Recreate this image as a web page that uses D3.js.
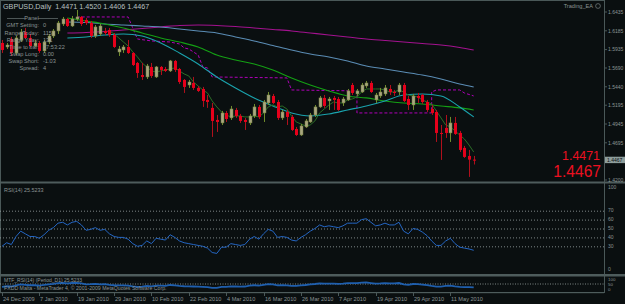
<!DOCTYPE html>
<html>
<head>
<meta charset="utf-8">
<script src="https://cdn.jsdelivr.net/npm/d3@7"></script>
<style>
  body { margin: 0; background: #0a0f10; }
  svg { display: block; font-family: "Liberation Sans", Arial, sans-serif; }
</style>
</head>
<body>
<svg id="chart" width="625" height="304"></svg>
<script>
// 1) Daily GBPUSD bars, 24 Dec 2009 .. 18 May 2010 (read off the picture)
const opens = [
  1.6023,1.5970,1.6076,1.5890,1.6063,1.6169,1.6090,1.5983,1.6023,1.5917,
  1.6036,1.6116,1.6183,1.6276,1.6342,1.6249,1.6342,1.6369,1.6329,1.6289,
  1.6116,1.6143,1.6183,1.6196,1.6129,1.5903,1.5930,1.5970,1.5890,1.5757,
  1.5597,1.5571,1.5704,1.5571,1.5704,1.5677,1.5651,1.5784,1.5677,1.5531,
  1.5464,1.5491,1.5425,1.5411,1.5265,1.5159,1.4999,1.4959,1.5092,1.5026,
  1.5132,1.5052,1.4999,1.4959,1.5052,1.5172,1.5092,1.5225,1.5318,1.5238,
  1.5026,1.5105,1.5039,1.4879,1.4799,1.4906,1.4972,1.5065,1.5172,1.5292,
  1.5252,1.5292,1.5278,1.5225,1.5265,1.5464,1.5345,1.5371,1.5451,1.5491,
  1.5265,1.5318,1.5345,1.5411,1.5371,1.5371,1.5464,1.5278,1.5198,1.5318,
  1.5331,1.5238,1.5145,1.5105,1.4826,1.4893,1.4826,1.4959,1.4826,1.4627,
  1.4520,1.4471
];
const highs = [
  1.6063,1.6023,1.6103,1.6116,1.6209,1.6223,1.6143,1.6063,1.6050,1.6063,
  1.6143,1.6209,1.6316,1.6369,1.6356,1.6382,1.6462,1.6382,1.6356,1.6316,
  1.6262,1.6276,1.6223,1.6223,1.6156,1.5983,1.5996,1.6063,1.5903,1.5770,
  1.5757,1.5744,1.5757,1.5717,1.5717,1.5704,1.5797,1.5797,1.5691,1.5544,
  1.5531,1.5571,1.5451,1.5438,1.5331,1.5225,1.5065,1.5119,1.5119,1.5185,
  1.5159,1.5079,1.5026,1.5079,1.5212,1.5198,1.5265,1.5371,1.5345,1.5265,
  1.5132,1.5132,1.5065,1.4906,1.4946,1.5012,1.5092,1.5198,1.5318,1.5331,
  1.5305,1.5318,1.5305,1.5305,1.5411,1.5491,1.5411,1.5491,1.5518,1.5518,
  1.5358,1.5425,1.5464,1.5464,1.5398,1.5491,1.5491,1.5318,1.5345,1.5358,
  1.5345,1.5265,1.5198,1.5132,1.4932,1.5065,1.5039,1.5039,1.4853,1.4653,
  1.4600,1.4520
];
const lows = [
  1.5890,1.5943,1.5850,1.5863,1.6036,1.6076,1.5957,1.5970,1.5890,1.5890,
  1.6010,1.6090,1.6143,1.6249,1.6236,1.6236,1.6316,1.6249,1.6262,1.6090,
  1.6090,1.6116,1.6129,1.6103,1.5957,1.5850,1.5890,1.5877,1.5717,1.5558,
  1.5531,1.5544,1.5558,1.5558,1.5597,1.5637,1.5637,1.5637,1.5478,1.5358,
  1.5425,1.5398,1.5371,1.5172,1.5159,1.4773,1.4839,1.4932,1.4972,1.4999,
  1.5026,1.4959,1.4866,1.4932,1.5026,1.5012,1.4972,1.5198,1.5212,1.4999,
  1.4999,1.4932,1.4853,1.4786,1.4786,1.4893,1.4959,1.5039,1.5159,1.5159,
  1.5132,1.5132,1.5119,1.5185,1.5252,1.5331,1.5318,1.5358,1.5425,1.5358,
  1.5225,1.5292,1.5318,1.5331,1.5318,1.5331,1.5238,1.5132,1.5132,1.5225,
  1.5212,1.5105,1.5065,1.4706,1.4467,1.4760,1.4706,1.4799,1.4573,1.4494,
  1.4241,1.4406
];
const closes = [
  1.5930,1.5996,1.5890,1.6090,1.6169,1.6090,1.5983,1.6023,1.5917,1.6036,
  1.6116,1.6183,1.6289,1.6342,1.6249,1.6342,1.6369,1.6276,1.6289,1.6116,
  1.6236,1.6249,1.6156,1.6129,1.5970,1.5943,1.5970,1.5890,1.5730,1.5624,
  1.5571,1.5717,1.5584,1.5704,1.5664,1.5651,1.5784,1.5664,1.5504,1.5438,
  1.5504,1.5425,1.5385,1.5252,1.5238,1.4986,1.4972,1.5092,1.5012,1.5145,
  1.5052,1.4986,1.4972,1.5052,1.5172,1.5039,1.5238,1.5331,1.5225,1.5026,
  1.5105,1.5039,1.4866,1.4799,1.4919,1.4986,1.5065,1.5172,1.5292,1.5185,
  1.5278,1.5265,1.5132,1.5278,1.5385,1.5358,1.5385,1.5464,1.5491,1.5371,
  1.5331,1.5371,1.5425,1.5371,1.5358,1.5464,1.5252,1.5198,1.5318,1.5292,
  1.5238,1.5132,1.5092,1.4826,1.4813,1.4826,1.4959,1.4813,1.4600,1.4507,
  1.4471,1.4467
];

// 2) Moving averages, sampled at these bars
const maIdx   = [14,18,22,26,30,34,38,42,46,50,54,58,62,66,70,74,78,82,86,90,94,98,101];
const maSlow  = [1.6156,1.6163,1.6176,1.6196,1.6216,1.6236,1.6256,1.6262,1.6256,1.6242,1.6223,1.6203,1.6183,1.6156,1.6129,1.6103,1.6076,1.6056,1.6036,1.6016,1.5996,1.5963,1.5930]; // magenta
const maLong  = [1.6302,1.6296,1.6276,1.6262,1.6249,1.6236,1.6209,1.6183,1.6156,1.6103,1.6050,1.5990,1.5930,1.5877,1.5837,1.5784,1.5717,1.5677,1.5637,1.5597,1.5544,1.5478,1.5438]; // steel blue
const maMid   = [1.6356,1.6316,1.6276,1.6223,1.6156,1.6090,1.6036,1.5970,1.5863,1.5797,1.5744,1.5664,1.5558,1.5464,1.5385,1.5318,1.5292,1.5252,1.5225,1.5212,1.5185,1.5159,1.5132]; // green
const maShort = [1.6090,1.6103,1.6129,1.6143,1.6116,1.6023,1.5890,1.5744,1.5571,1.5425,1.5292,1.5185,1.5092,1.5052,1.5079,1.5132,1.5185,1.5252,1.5331,1.5345,1.5318,1.5172,1.5039]; // teal

// fast MA, one value per bar from bar 23
const fastStart = 23;
const maFast = [
  1.6183,1.6143,1.6090,1.6036,1.5983,1.5903,1.5837,1.5757,1.5704,1.5651,
  1.5637,1.5651,1.5664,1.5677,1.5691,1.5651,1.5611,1.5584,1.5504,1.5451,
  1.5398,1.5358,1.5252,1.5172,1.5105,1.5065,1.5039,1.5052,1.5052,1.5039,
  1.5039,1.5052,1.5039,1.5092,1.5172,1.5198,1.5172,1.5185,1.5145,1.5052,
  1.4972,1.4946,1.4919,1.4932,1.4986,1.5092,1.5145,1.5198,1.5238,1.5225,
  1.5225,1.5265,1.5278,1.5305,1.5371,1.5411,1.5411,1.5411,1.5411,1.5398,
  1.5371,1.5371,1.5398,1.5371,1.5331,1.5318,1.5305,1.5265,1.5238,1.5212,
  1.5119,1.5026,1.4932,1.4906,1.4853,1.4799,1.4746,1.4666,1.4573
];

// dashed trailing-stop line
const stopIdx  = [16,27,29,32,36,38,39,40,42,43,44,45,61,62,76,76,92,92,93,98,99,101];
const stopVals = [1.6369,1.6369,1.6076,1.6050,1.6036,1.6010,1.5957,1.5943,1.5863,1.5704,1.5691,1.5571,1.5558,1.5398,1.5385,1.5092,1.5092,1.5371,1.5398,1.5398,1.5358,1.5318];

// 3) RSI(14)
const rsi = [
  30,34,32,41,47,44,41,41,39,43,
  48,51,56,57,54,57,58,54,48,49,
  51,48,49,44,41,40,40,38,33,30,
  31,36,33,39,38,37,43,40,36,34,
  33,32,31,30,28,23,22,29,29,33,
  32,31,32,38,41,38,44,49,47,40,
  41,40,37,36,40,43,47,50,54,52,
  53,52,51,53,56,56,56,60,61,57,
  53,54,56,54,54,57,47,44,50,49,
  46,42,36,31,31,36,39,33,29,28,
  27,25.52
];
const rsiLevels = [70, 60, 50, 40, 30];
const rsiTicks  = [100, 70, 60, 50, 40, 30, 0];
const mtfTicks  = [100, 50, 0];

// 4) Axis labels and panel
const priceTicks = [1.6435, 1.6185, 1.5935, 1.5690, 1.5440, 1.5195, 1.4945, 1.4695, 1.4200];
const lastPrice  = 1.4467;
const dateIdx    = [0, 8, 16, 24, 32, 40, 48, 56, 64, 72, 80, 88, 96];
const dateLabels = ["24 Dec 2009","7 Jan 2010","19 Jan 2010","29 Jan 2010","10 Feb 2010","22 Feb 2010",
                    "4 Mar 2010","16 Mar 2010","26 Mar 2010","7 Apr 2010","19 Apr 2010","29 Apr 2010","11 May 2010"];
const panelLabels = ["GMT Setting:", "Range Today:", "Range Yday:", "Time to bar:", "Swap Long:", "Swap Short:", "Spread:"];
const panelValues = ["0", "115", "131", "17:53:22", "0.00", "-1.03", "4"];

const svg = d3.select("#chart");
const W = 625, axisX = 604;
const grey = "#8a9494", frame = "#4a5858";

// window layout
const main = { top: 0, bottom: 181 };
const rsiW = { top: 184, bottom: 273 };
const mtfW = { top: 277, bottom: 291 };

// scales
const x = d3.scaleLinear().domain([0, 101]).range([2, 473.7]);
const y = d3.scaleLinear().domain([1.4200, 1.6435]).range([180, 12]);
const yR = d3.scaleLinear().domain([0, 100]).range([rsiW.bottom, rsiW.top]);
const yM = d3.scaleLinear().domain([0, 100]).range([mtfW.bottom, mtfW.top]);

// clip paths
const defs = svg.append("defs");
[["clipMain", main], ["clipRsi", rsiW], ["clipMtf", mtfW]].forEach(([id, w]) => {
  defs.append("clipPath").attr("id", id)
    .append("rect").attr("x", 0).attr("y", w.top).attr("width", axisX).attr("height", w.bottom - w.top);
});

svg.append("rect").attr("width", W).attr("height", 304).attr("fill", "#0a0f10");

// 5) Frames and separators
svg.append("line").attr("x1", 0.5).attr("x2", 0.5).attr("y1", 0).attr("y2", 293).attr("stroke", frame);
svg.append("line").attr("x1", 0).attr("x2", axisX).attr("y1", 0.5).attr("y2", 0.5).attr("stroke", frame);
svg.append("line").attr("x1", axisX + 0.5).attr("x2", axisX + 0.5).attr("y1", 0).attr("y2", 293).attr("stroke", frame);
svg.append("rect").attr("x", 0).attr("y", 181.5).attr("width", W).attr("height", 2).attr("fill", "#4e5c5c");
svg.append("rect").attr("x", 0).attr("y", 274).attr("width", W).attr("height", 2.5).attr("fill", "#4e5c5c");
svg.append("rect").attr("x", 0).attr("y", 292).attr("width", axisX).attr("height", 1.2).attr("fill", "#4e5c5c");

// 6) Main window
const gMain = svg.append("g").attr("clip-path", "url(#clipMain)");

const bars = d3.range(opens.length).map(i => ({
  i, o: opens[i], h: highs[i], l: lows[i], c: closes[i], up: closes[i] >= opens[i]
}));

// trailing stop (dashed magenta)
gMain.append("path")
  .datum(stopVals)
  .attr("d", d3.line().x((d, k) => x(stopIdx[k])).y(d => y(d)))
  .attr("fill", "none").attr("stroke", "#b000b8").attr("stroke-width", 1)
  .attr("stroke-dasharray", "3,2");

// moving averages
const maSeries = [
  { vals: maSlow,  color: "#a3128f" },
  { vals: maLong,  color: "#5b8db5" },
  { vals: maMid,   color: "#14a014" },
  { vals: maShort, color: "#1aa3ad" }
];
maSeries.forEach(s => {
  gMain.append("path")
    .datum(s.vals)
    .attr("d", d3.line().x((d, k) => x(maIdx[k])).y(d => y(d)).curve(d3.curveMonotoneX))
    .attr("fill", "none").attr("stroke", s.color).attr("stroke-width", 1.1);
});

gMain.append("path")
  .datum(maFast)
  .attr("d", d3.line().x((d, k) => x(fastStart + k)).y(d => y(d)))
  .attr("fill", "none").attr("stroke", "#2a6e26").attr("stroke-width", 1);

// candles: wicks then bodies
gMain.selectAll("line.wick")
  .data(bars)
  .join("line")
    .attr("class", "wick")
    .attr("x1", d => Math.round(x(d.i)) + 0.5)
    .attr("x2", d => Math.round(x(d.i)) + 0.5)
    .attr("y1", d => y(d.h))
    .attr("y2", d => y(d.l))
    .attr("stroke", d => d.up ? "#6f8c2c" : "#b0101c")
    .attr("stroke-width", 1);

gMain.selectAll("rect.body")
  .data(bars)
  .join("rect")
    .attr("class", "body")
    .attr("x", d => Math.round(x(d.i)) - 1)
    .attr("y", d => y(Math.max(d.o, d.c)))
    .attr("width", 3)
    .attr("height", d => Math.max(1, Math.abs(y(d.o) - y(d.c))))
    .attr("fill", d => d.up ? "#a9a680" : "#e6001b")
    .attr("stroke", d => d.up ? "#76803e" : "none")
    .attr("stroke-width", 0.5);

// title + panel
svg.append("text").attr("x", 3).attr("y", 6).attr("dy", "0.35em")
  .attr("fill", "#b8c0c0").attr("font-size", 7.2).style("white-space", "pre")
  .text("GBPUSD,Daily  1.4471 1.4520 1.4406 1.4467");

svg.append("text").attr("x", 31.5).attr("y", 18).attr("dy", "0.35em")
  .attr("text-anchor", "middle").attr("fill", grey).attr("font-size", 5.6).text("Panel");
[[7, 25], [38, 58]].forEach(([a, b]) => {
  svg.append("line").attr("x1", a).attr("x2", b).attr("y1", 18.5).attr("y2", 18.5)
    .attr("stroke", "#6a7676").attr("stroke-width", 0.7);
});
panelLabels.forEach((t, k) => {
  const yy = 25.5 + k * 7.1;
  svg.append("text").attr("x", 39).attr("y", yy).attr("dy", "0.35em")
    .attr("text-anchor", "end").attr("fill", grey).attr("font-size", 5.6).text(t);
  svg.append("text").attr("x", 43).attr("y", yy).attr("dy", "0.35em")
    .attr("fill", grey).attr("font-size", 5.6).text(panelValues[k]);
});

// EA label top right
svg.append("text").attr("x", 593).attr("y", 6).attr("dy", "0.35em")
  .attr("text-anchor", "end").attr("fill", grey).attr("font-size", 5.6).text("Trading_EA");
svg.append("circle").attr("cx", 598).attr("cy", 6).attr("r", 2.4)
  .attr("fill", "none").attr("stroke", grey).attr("stroke-width", 0.6);

// big red price texts
svg.append("text").attr("x", 600).attr("y", 159.5).attr("text-anchor", "end")
  .attr("fill", "#ec1020").attr("font-size", 12.4).text("1.4471");
svg.append("text").attr("x", 601).attr("y", 177).attr("text-anchor", "end")
  .attr("fill", "#ec1020").attr("font-size", 15.6).text("1.4467");

// price axis
priceTicks.forEach(p => {
  svg.append("line").attr("x1", axisX).attr("x2", axisX + 3).attr("y1", y(p)).attr("y2", y(p))
    .attr("stroke", frame);
  svg.append("text").attr("x", 608).attr("y", y(p)).attr("dy", "0.35em")
    .attr("fill", grey).attr("font-size", 5).text(p.toFixed(4));
});
svg.append("rect").attr("x", 605).attr("y", y(lastPrice) - 3.2).attr("width", 20).attr("height", 6.4)
  .attr("fill", "#8e9e9c");
svg.append("text").attr("x", 607).attr("y", y(lastPrice)).attr("dy", "0.35em")
  .attr("fill", "#0a0f10").attr("font-size", 5).text(lastPrice.toFixed(4));

// 7) RSI window
const gRsi = svg.append("g").attr("clip-path", "url(#clipRsi)");
rsiLevels.forEach(v => {
  gRsi.append("line").attr("x1", 0).attr("x2", axisX).attr("y1", yR(v) + 0.5).attr("y2", yR(v) + 0.5)
    .attr("stroke", "#9aa4a4").attr("stroke-width", 0.8).attr("stroke-dasharray", "1,2");
});
gRsi.append("path")
  .datum(rsi)
  .attr("d", d3.line().x((d, i) => x(i)).y(d => yR(d)))
  .attr("fill", "none").attr("stroke", "#2466c4").attr("stroke-width", 1);

svg.append("text").attr("x", 4).attr("y", 190).attr("dy", "0.35em")
  .attr("fill", grey).attr("font-size", 5.4).text("RSI(14) 25.5233");

rsiTicks.forEach(v => {
  const yy = Math.max(rsiW.top + 3.5, Math.min(rsiW.bottom - 4, yR(v)));
  svg.append("text").attr("x", 608).attr("y", yy).attr("dy", "0.35em")
    .attr("fill", grey).attr("font-size", 5).text(v);
});

// 8) MTF RSI window
const gMtf = svg.append("g").attr("clip-path", "url(#clipMtf)");
gMtf.append("line").attr("x1", 0).attr("x2", axisX).attr("y1", yM(50)).attr("y2", yM(50))
  .attr("stroke", "#9aa4a4").attr("stroke-width", 0.8).attr("stroke-dasharray", "1,1.5");
gMtf.append("path")
  .datum(rsi)
  .attr("d", d3.line().x((d, i) => x(i)).y(d => yM(d)))
  .attr("fill", "none").attr("stroke", "#1f5fae").attr("stroke-width", 1.8);

svg.append("text").attr("x", 4).attr("y", 280).attr("dy", "0.35em")
  .attr("fill", grey).attr("font-size", 5).text("MTF_RSI(14) (Period_D1) 25.5233");
svg.append("text").attr("x", 4).attr("y", 288).attr("dy", "0.35em")
  .attr("fill", grey).attr("font-size", 5.2)
  .text("FXDD Malta - MetaTrader 4, © 2001-2009 MetaQuotes Software Corp.");

mtfTicks.forEach(v => {
  const yy = Math.max(mtfW.top + 2, Math.min(mtfW.bottom - 1.5, yM(v)));
  svg.append("text").attr("x", 608).attr("y", yy).attr("dy", "0.35em")
    .attr("fill", grey).attr("font-size", 4.4).text(v);
});

// 9) Date axis
dateIdx.forEach((b, k) => {
  const xx = Math.round(x(b)) + 0.5;
  svg.append("line").attr("x1", xx).attr("x2", xx).attr("y1", 293).attr("y2", 296)
    .attr("stroke", frame);
  svg.append("text").attr("x", xx + 0.5).attr("y", 299).attr("dy", "0.35em")
    .attr("fill", grey).attr("font-size", 5.6).text(dateLabels[k]);
});
</script>
</body>
</html>
